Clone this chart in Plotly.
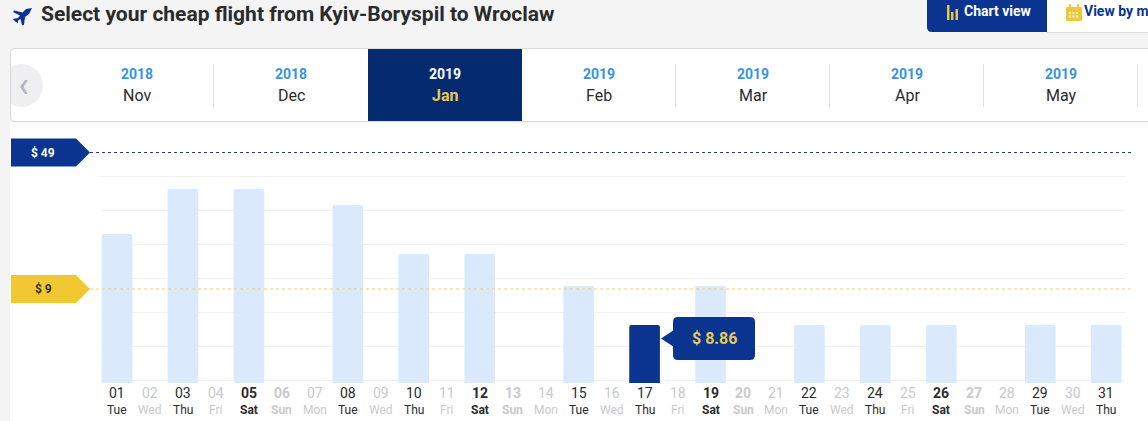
#!/usr/bin/env python3

import plotly.graph_objects as go

title = "Select your cheap flight from Kyiv-Boryspil to Wroclaw"
years = ["2018", "2018", "2019", "2019", "2019", "2019", "2019"]
months = ["Nov", "Dec", "Jan", "Feb", "Mar", "Apr", "May"]
selected_month = "Jan"

days = list(range(1, 32))
weekdays = ["Tue", "Wed", "Thu", "Fri", "Sat", "Sun", "Mon"] * 4 + ["Tue", "Wed", "Thu"]
# bar heights, the axis has no printed scale
bar_heights = [149, 0, 194, 0, 194, 0, 0, 178, 0, 129, 0, 129, 0, 0, 97, 0,
               58, 0, 97, 0, 0, 58, 0, 58, 0, 58, 0, 0, 58, 0, 58]
grid_heights = [3, 37, 71, 105, 139, 173, 207]
selected_day = 17
selected_price = "$ 8.86"
ref_labels = ["$ 49", "$ 9"]
ref_heights = [230.5, 94]

NAVY = "#0a348f"
DARK_NAVY = "#062a70"
YELLOW = "#f2c832"
BLUE = "#3a93dc"
DARK = "#2b2b2b"
GREY = "#c9c9ce"
PAGE = "#f4f4f4"
FONT = "Roboto"

W, H = 1148, 421
LEFT, RIGHT, TOP, BOTTOM = 101, 1125, 140, 383


def px(x):
    return (x - LEFT) / (RIGHT - LEFT)


def py(y):
    return (BOTTOM - y) / (BOTTOM - TOP)


def rect(x0, y0, x1, y1, fill, line=None, layer="below"):
    return dict(type="rect", xref="paper", yref="paper", layer=layer,
                x0=px(x0), x1=px(x1), y0=py(y0), y1=py(y1), fillcolor=fill,
                line=dict(color=line or fill, width=1 if line else 0))


def poly(points, fill, layer="above"):
    path = "M " + " L ".join(f"{px(x):.5f},{py(y):.5f}" for x, y in points) + " Z"
    return dict(type="path", xref="paper", yref="paper", layer=layer, path=path,
                fillcolor=fill, line=dict(width=0))


def round_rect(x0, y0, x1, y1, r, fill, layer="above"):
    pts = [f"M {px(x0 + r):.5f},{py(y0):.5f}",
           f"L {px(x1 - r):.5f},{py(y0):.5f}",
           f"Q {px(x1):.5f},{py(y0):.5f} {px(x1):.5f},{py(y0 + r):.5f}",
           f"L {px(x1):.5f},{py(y1 - r):.5f}",
           f"Q {px(x1):.5f},{py(y1):.5f} {px(x1 - r):.5f},{py(y1):.5f}",
           f"L {px(x0 + r):.5f},{py(y1):.5f}",
           f"Q {px(x0):.5f},{py(y1):.5f} {px(x0):.5f},{py(y1 - r):.5f}",
           f"L {px(x0):.5f},{py(y0 + r):.5f}",
           f"Q {px(x0):.5f},{py(y0):.5f} {px(x0 + r):.5f},{py(y0):.5f} Z"]
    return dict(type="path", xref="paper", yref="paper", layer=layer, path=" ".join(pts),
                fillcolor=fill, line=dict(width=0))


def label(x, y, text, size, color, bold=False, anchor="center"):
    if bold:
        text = f"<b>{text}</b>"
    return dict(xref="paper", yref="paper", x=px(x), y=py(y), text=text, showarrow=False,
                xanchor=anchor, yanchor="middle", font=dict(family=FONT, size=size, color=color))


colors = [NAVY if d == selected_day else "#daeafc" for d in days]

fig = go.Figure(go.Bar(x=days, y=bar_heights, width=0.93, marker=dict(color=colors, line=dict(width=0)),
                       hoverinfo="skip"))

shapes = []
annotations = []

# page parts
shapes.append(rect(10, 123, W + 2, H + 2, "#ffffff"))
shapes.append(round_rect(10, 48, W + 6, 122, 5, "#dcdcdc", layer="below"))
shapes.append(round_rect(11, 49, W + 6, 121, 4, "#ffffff", layer="below"))
# back button is a circle cut by the left edge of the strip
shapes.append(dict(type="circle", xref="paper", yref="paper", layer="below", x0=px(0), x1=px(43),
                   y0=py(64), y1=py(107), fillcolor="#efeff1", line=dict(width=0)))
shapes.append(rect(-2, 60, 10, 110, PAGE))
shapes.append(rect(10, 60, 11, 110, "#dcdcdc"))
shapes.append(poly([(28, 80), (23.5, 87), (28, 94), (25, 94), (20, 87), (25, 80)], "#b4b7bf"))

# tabs
shapes.append(round_rect(927, -6, 1060, 32, 5, NAVY, layer="below"))
shapes.append(rect(1047, -2, W + 2, 32, "#ffffff"))
shapes.append(rect(1047, 32, W + 2, 33, "#dedede"))
for x0, x1, top in [(947, 949.5, 5), (951, 953.5, 12), (955.5, 958, 9)]:
    shapes.append(rect(x0, top, x1, 20, "#e3c454", layer="above"))
shapes.append(round_rect(1066, 7, 1082, 21, 1, YELLOW))
for x0 in (1069, 1077):
    shapes.append(rect(x0, 4, x0 + 2, 8, YELLOW, layer="above"))
for x0 in (1069, 1072.5, 1076):
    for y0 in (12, 15.5):
        shapes.append(rect(x0, y0, x0 + 2, y0 + 2, "#ffffff", layer="above"))
annotations.append(label(962, 11, "Chart view", 14, "#ffffff", bold=True, anchor="left"))
annotations.append(label(1082, 11, "View by month", 14, NAVY, bold=True, anchor="left"))

# plane and title
shapes.append(poly([(32, 8), (29, 14), (25, 17), (24, 25), (22, 25), (20.5, 19), (18, 20.5),
                    (18, 23), (16, 22), (13, 19.5), (15, 18.5), (18, 18), (20, 15.5), (13, 12), (14.5, 10.5),
                    (22.5, 12.5), (26, 9)], NAVY))
annotations.append(label(39, 14, title, 21, DARK, bold=True, anchor="left"))

# month strip
for i, (year, month) in enumerate(zip(years, months)):
    cx = 137 + i * 154
    current = month == selected_month
    if current:
        shapes.append(rect(cx - 77, 49, cx + 77, 121, DARK_NAVY))
    annotations.append(label(cx, 74, year, 14, "#ffffff" if current else BLUE, bold=True))
    annotations.append(label(cx, 95, month, 16, "#e8c75a" if current else DARK, bold=current))
for x in (213, 675, 829, 983, 1137):
    shapes.append(rect(x, 64, x + 1, 107, "#e2e2e2"))

# reference badges and dashed lines
for text, height, color, text_color in zip(ref_labels, ref_heights, [NAVY, YELLOW], ["#ffffff", "#333333"]):
    mid = BOTTOM - height
    shapes.append(poly([(11, mid - 14), (76, mid - 14), (90, mid), (76, mid + 14), (11, mid + 14)], color))
    shapes.append(dict(type="line", xref="paper", yref="y", layer="above", x0=px(90), x1=px(1132),
                       y0=height, y1=height,
                       line=dict(color="#1d3f7f" if color == NAVY else "#ecd170", width=1, dash="3px,3px")))
    annotations.append(label(43, mid, text, 12, text_color, bold=True))

# tooltip of the selected bar
shapes.append(round_rect(673, 317, 755, 360, 5, NAVY))
shapes.append(poly([(661, 338.5), (674, 330), (674, 347)], NAVY))
annotations.append(label(714, 338, selected_price, 16, "#e8c75a", bold=True))

# day labels
for d, wd, h in zip(days, weekdays, bar_heights):
    color = DARK if h > 0 else GREY
    bold = wd in ("Sat", "Sun")
    annotations.append(dict(xref="x", yref="paper", x=d, y=py(393), text=f"<b>{d:02d}</b>" if bold else f"{d:02d}",
                            showarrow=False, yanchor="middle",
                            font=dict(family=FONT, size=14, color=color)))
    annotations.append(dict(xref="x", yref="paper", x=d, y=py(410), text=f"<b>{wd}</b>" if bold else wd,
                            showarrow=False, yanchor="middle",
                            font=dict(family=FONT, size=12, color=color)))

fig.update_layout(
    width=W, height=H, autosize=False,
    margin=dict(l=LEFT, r=W - RIGHT, t=TOP, b=H - BOTTOM, pad=0),
    paper_bgcolor=PAGE, plot_bgcolor="rgba(0,0,0,0)",
    showlegend=False, barcornerradius=2,
    shapes=shapes, annotations=annotations,
    xaxis=dict(range=[0.515, 31.57], visible=False, fixedrange=True),
    yaxis=dict(range=[0, BOTTOM - TOP], tickmode="array", tickvals=grid_heights, showticklabels=False,
               showgrid=True, gridcolor="#f0f1f3", gridwidth=1, zeroline=False, showline=False, fixedrange=True),
)

fig.write_html("out.html", config=dict(displayModeBar=False),
               post_script="document.body.style.margin='0';document.documentElement.style.overflow='hidden';")
